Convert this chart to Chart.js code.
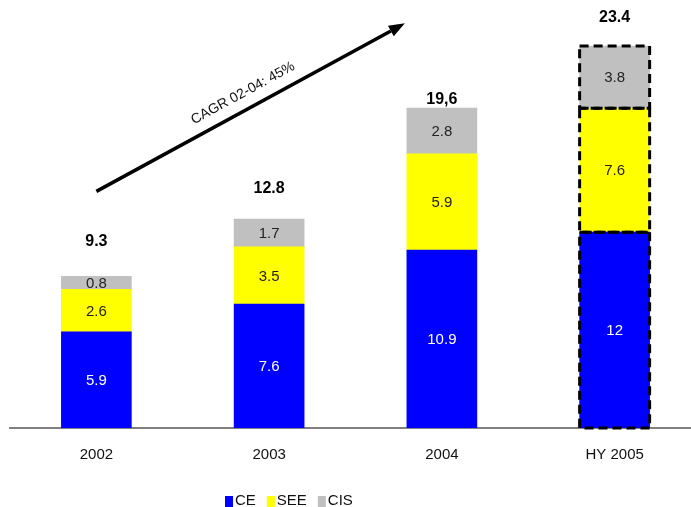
<!DOCTYPE html>
<html>
<head>
<meta charset="utf-8">
<script src="https://cdn.jsdelivr.net/npm/chart.js@4.4.1/dist/chart.umd.min.js"></script>
<style>
  html, body { margin: 0; padding: 0; background: #fff; overflow: hidden; }
  #wrap { position: absolute; left: 0; top: 0; width: 701px; height: 507px; }
</style>
</head>
<body>
<div id="wrap"><canvas id="c"></canvas></div>
<script>
// Revenue by region (stacked), with a dashed outline on the half-year column
const categories = ['2002', '2003', '2004', 'HY 2005'];
const ceValues   = [5.9, 7.6, 10.9, 12];
const seeValues  = [2.6, 3.5, 5.9, 7.6];
const cisValues  = [0.8, 1.7, 2.8, 3.8];
const totalLabels = ['9.3', '12.8', '19,6', '23.4'];
const cagrText = 'CAGR 02-04: 45%';

const FONT = "'Liberation Sans', sans-serif";
const totalGap = [35, 31, 9, 29];   // px between column top and its total label
const dashedIndex = 3;              // column drawn with a dashed outline

const overlay = {
  id: 'overlay',
  afterDatasetsDraw(chart) {
    const ctx = chart.ctx;
    const x = chart.scales.x, y = chart.scales.y;
    ctx.save();

    // segment value labels
    chart.data.datasets.forEach((ds, di) => {
      const meta = chart.getDatasetMeta(di);
      meta.data.forEach((bar, i) => {
        const v = ds.data[i];
        const cy = (bar.y + bar.base) / 2;
        ctx.font = '15px ' + FONT;
        ctx.textAlign = 'center';
        ctx.textBaseline = 'middle';
        ctx.fillStyle = di === 0 ? '#ffffff' : '#222222';
        ctx.fillText(String(v), bar.x, cy + 1);
      });
    });

    // dashed outline on each segment of the half-year column
    ctx.strokeStyle = '#000';
    ctx.lineWidth = 3;
    ctx.setLineDash([9, 5]);
    chart.data.datasets.forEach((ds, di) => {
      const bar = chart.getDatasetMeta(di).data[dashedIndex];
      const w = bar.width;
      ctx.strokeRect(bar.x - w / 2, bar.y, w, bar.base - bar.y);
    });
    ctx.setLineDash([]);

    // totals above columns
    const topMeta = chart.getDatasetMeta(chart.data.datasets.length - 1);
    ctx.font = 'bold 16px ' + FONT;
    ctx.fillStyle = '#000';
    ctx.textAlign = 'center';
    ctx.textBaseline = 'middle';
    topMeta.data.forEach((bar, i) => {
      ctx.fillText(totalLabels[i], bar.x, bar.y - totalGap[i]);
    });

    // growth arrow 2002 -> 2004
    const x0 = x.getPixelForValue(0), y0 = y.getPixelForValue(14.5);
    const x1 = x.getPixelForValue(1.786), y1 = y.getPixelForValue(24.8);
    const ang = Math.atan2(y1 - y0, x1 - x0);
    const head = 16, hw = 6;
    const bx = x1 - head * Math.cos(ang), by = y1 - head * Math.sin(ang);
    ctx.strokeStyle = '#000';
    ctx.lineWidth = 3.5;
    ctx.beginPath();
    ctx.moveTo(x0, y0);
    ctx.lineTo(bx, by);
    ctx.stroke();
    ctx.beginPath();
    ctx.moveTo(x1, y1);
    ctx.lineTo(bx + hw * Math.sin(ang), by - hw * Math.cos(ang));
    ctx.lineTo(bx - hw * Math.sin(ang), by + hw * Math.cos(ang));
    ctx.closePath();
    ctx.fillStyle = '#000';
    ctx.fill();

    // arrow caption
    const mx = x0 + (x1 - x0) * 0.5, my = y0 + (y1 - y0) * 0.5;
    ctx.translate(mx, my);
    ctx.rotate(ang);
    ctx.font = '14px ' + FONT;
    ctx.fillStyle = '#111';
    ctx.textAlign = 'center';
    ctx.textBaseline = 'middle';
    ctx.fillText(cagrText, 0, -16);
    ctx.setTransform(1, 0, 0, 1, 0, 0);

    // legend
    let lx = 225;
    const ly = 496;
    ctx.font = '15px ' + FONT;
    ctx.textAlign = 'left';
    ctx.textBaseline = 'middle';
    chart.data.datasets.forEach(ds => {
      ctx.fillStyle = ds.backgroundColor;
      ctx.fillRect(lx, ly, 8, 11);
      ctx.fillStyle = '#111';
      ctx.fillText(ds.label, lx + 10, ly + 5);
      lx += 10 + ctx.measureText(ds.label).width + 11;
    });

    ctx.restore();
  }
};

new Chart(document.getElementById('c'), {
  type: 'bar',
  data: {
    labels: categories,
    datasets: [
      { label: 'CE',  data: ceValues,  backgroundColor: '#0000ff' },
      { label: 'SEE', data: seeValues, backgroundColor: '#ffff00' },
      { label: 'CIS', data: cisValues, backgroundColor: '#c0c0c0' }
    ]
  },
  options: {
    responsive: true,
    maintainAspectRatio: false,
    animation: false,
    datasets: { bar: { barThickness: 70, borderWidth: 0 } },
    layout: { padding: { left: 10, right: 0, top: 20, bottom: 33 } },
    plugins: { legend: { display: false }, tooltip: { enabled: false } },
    scales: {
      x: {
        stacked: true,
        grid: { display: false },
        border: { display: true, color: '#808080', width: 2 },
        ticks: { color: '#111', font: { family: FONT, size: 15 }, padding: 10 }
      },
      y: {
        stacked: true,
        display: false,
        min: 0,
        max: 25
      }
    }
  },
  plugins: [overlay]
});
</script>
</body>
</html>
